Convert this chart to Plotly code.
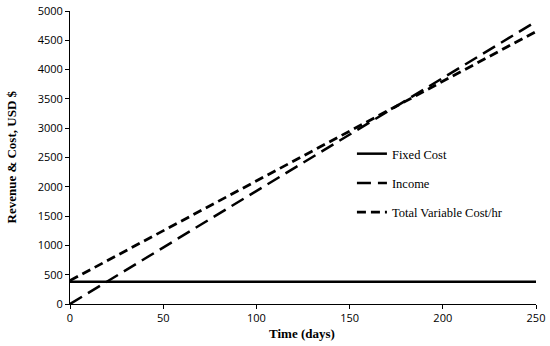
import plotly.graph_objects as go

days = [0, 250]
fixed_cost = [380, 380]
income = [0, 4820]
total_variable_cost = [400, 4650]

x_ticks = [0, 50, 100, 150, 200, 250]
y_ticks = list(range(0, 5001, 500))

fig = go.Figure()
fig.add_trace(go.Scatter(x=days, y=fixed_cost, mode="lines", name="Fixed Cost",
                         legendgroup="a", line=dict(color="black", width=2.5, dash="solid")))
fig.add_trace(go.Scatter(x=days, y=income, mode="lines", name="Income",
                         legendgroup="b", line=dict(color="black", width=2.5, dash="14px,7px")))
fig.add_trace(go.Scatter(x=days, y=total_variable_cost, mode="lines", name="Total Variable Cost/hr",
                         legendgroup="c", line=dict(color="black", width=2.8, dash="9px,5px")))

fig.update_layout(
    width=550, height=346,
    margin=dict(l=70, r=14, t=11, b=42),
    plot_bgcolor="white", paper_bgcolor="white",
    showlegend=True,
    legend=dict(x=0.605, y=0.563, xanchor="left", yanchor="top",
                font=dict(family="Liberation Serif", size=12.5, color="black"),
                tracegroupgap=10, bgcolor="rgba(0,0,0,0)"),
    font=dict(family="Open Sans", color="black"),
    annotations=[
        dict(text="<b>Time (days)</b>", xref="paper", yref="paper", x=0.497, y=-0.099,
             xanchor="center", yanchor="middle", showarrow=False,
             font=dict(family="Liberation Serif", size=13, color="black")),
        dict(text="<b>Revenue & Cost, USD $</b>", xref="paper", yref="paper", x=-0.1266, y=0.5,
             xanchor="center", yanchor="middle", showarrow=False, textangle=-90,
             font=dict(family="Liberation Serif", size=13, color="black")),
    ],
)
fig.update_xaxes(range=[0, 250], tickvals=x_ticks, showgrid=False, zeroline=False,
                 showline=True, linecolor="black", linewidth=1, ticks="outside",
                 ticklen=4, tickcolor="black", tickfont=dict(family="Open Sans", size=11),
                 automargin=False, ticklabeloverflow="allow")
fig.update_yaxes(range=[0, 5000], tickvals=y_ticks, showgrid=False, zeroline=False,
                 showline=True, linecolor="black", linewidth=1, ticks="outside",
                 ticklen=4, tickcolor="black", tickfont=dict(family="Open Sans", size=11),
                 automargin=False, ticklabeloverflow="allow")

fig.write_html("out.html", config={"displayModeBar": False},
               post_script="document.body.style.margin='0';")
